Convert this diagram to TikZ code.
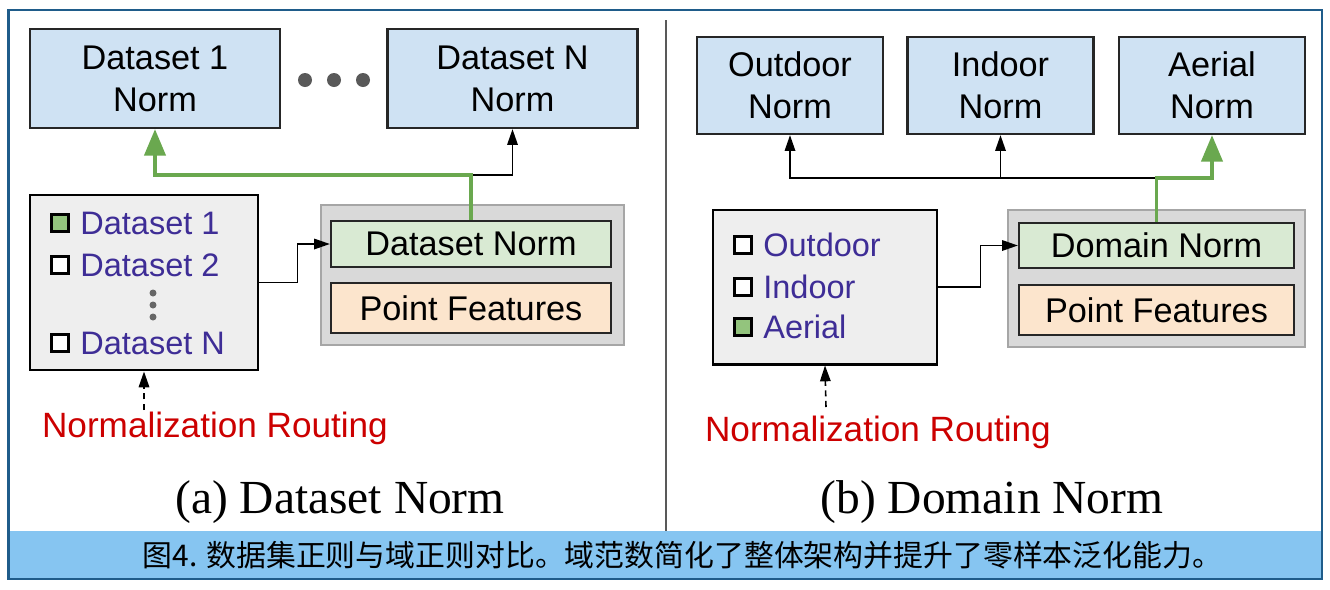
\documentclass[tikz,border=0pt]{standalone}
\usepackage{fontspec}
\setmainfont{Liberation Sans}
\newfontfamily\cjkfont{Noto Sans CJK SC}
\newfontfamily\subfont{Liberation Serif}
\usepackage{xcolor}
\usepackage{tikz}
\usetikzlibrary{arrows.meta,positioning,calc}

\definecolor{normblue}{HTML}{CFE2F3}
\definecolor{normgreen}{HTML}{D9EAD3}
\definecolor{featorange}{HTML}{FCE5CD}
\definecolor{contgray}{HTML}{D9D9D9}
\definecolor{routegray}{HTML}{EEEEEE}
\definecolor{pathgreen}{HTML}{6AA84F}
\definecolor{chkgreen}{HTML}{93C47D}
\definecolor{itempurple}{HTML}{3E2D96}
\definecolor{routered}{HTML}{CC0000}
\definecolor{capblue}{HTML}{86C5F1}
\definecolor{frameblue}{HTML}{1F5C8A}

\begin{document}
\begin{tikzpicture}[
  >={Triangle[length=9pt,width=6pt]},
  normbox/.style={draw=black!85, line width=1.3pt, fill=normblue, align=center, inner sep=0pt, font=\fontsize{19.5}{24}\selectfont},
  layerbox/.style={draw=black!85, line width=1.3pt, align=center, inner sep=0pt, font=\fontsize{19.5}{24}\selectfont},
  contbox/.style={draw=black!35, line width=1.3pt, fill=contgray, inner sep=0pt},
  routebox/.style={draw=black, line width=1.7pt, fill=routegray, inner sep=0pt},
  chk/.style={draw=black, line width=1.7pt, fill=white, minimum size=0.34cm, inner sep=0pt},
  item/.style={text=itempurple, inner sep=0pt, text depth=0pt, font=\fontsize{18.5}{22}\selectfont},
  routelabel/.style={text=routered, font=\fontsize{20}{24}\selectfont},
  subcap/.style={font=\subfont\fontsize{27}{30}\selectfont},
  arr/.style={->, line width=0.9pt},
  garr/.style={-{Triangle[length=15pt,width=12pt]}, draw=pathgreen, line width=2pt},
]
\useasboundingbox (0,0) rectangle (26.6,-11.8);

% Frame and caption bar
\fill[white] (0.17,-0.2) rectangle (26.44,-11.58);
\fill[capblue] (0.17,-10.62) rectangle (26.44,-11.58);
\draw[frameblue, line width=1.5pt] (0.17,-0.2) rectangle (26.44,-11.58);
\node[font=\cjkfont\fontsize{17}{19}\selectfont] (caption) at (13.65,-11.1) {图4. 数据集正则与域正则对比。域范数简化了整体架构并提升了零样本泛化能力。};
\draw[black!65, line width=1.2pt] (13.32,-0.40) -- (13.32,-10.62);

% Left panel: per-dataset norms
\node[normbox, minimum width=5cm, minimum height=1.98cm] (ds1) at (3.10,-1.57) {Dataset 1\\Norm};
\node[normbox, minimum width=5cm, minimum height=1.98cm] (dsN) at (10.25,-1.57) {Dataset N\\Norm};
\foreach \x in {6.10,6.68,7.26} \fill[black!65] (\x,-1.60) circle (0.14);

\node[routebox, minimum width=4.56cm, minimum height=3.5cm] (routeA) at (2.88,-5.65) {};
\node[chk, fill=chkgreen] (chkA1) at (1.20,-4.46) {};
\node[chk] (chkA2) at (1.20,-5.30) {};
\node[chk] (chkAN) at (1.20,-6.86) {};
\node[item, right=0.2cm of chkA1] (itA1) {Dataset 1};
\node[item, right=0.2cm of chkA2] (itA2) {Dataset 2};
\node[item, right=0.2cm of chkAN] (itAN) {Dataset N};
\foreach \y in {-5.86,-6.10,-6.34} \fill[black!60] (3.06,\y) circle (0.07);

\node[contbox, minimum width=6.06cm, minimum height=2.8cm] (contA) at (9.45,-5.50) {};
\node[layerbox, fill=normgreen, minimum width=5.6cm, minimum height=0.92cm] (dsnorm) at (9.42,-4.88) {Dataset Norm};
\node[layerbox, fill=featorange, minimum width=5.6cm, minimum height=1.0cm] (ptA) at (9.42,-6.16) {Point Features};

\coordinate (jA) at (9.42,-3.50);
\draw[arr] (jA) -| (dsN.south);
\draw[garr] (dsnorm.north) -- (jA) -| (ds1.south);
\draw[arr] (routeA.east) -- ++(0.76,0) |- (dsnorm.west);

\coordinate (srcA) at (2.88,-8.20);
\draw[arr, dash pattern=on 3.5pt off 2.5pt] (srcA) -- (routeA.south);
\node[routelabel] (labA) at (4.30,-8.56) {Normalization Routing};
\node[subcap] (subA) at (6.80,-10.04) {(a) Dataset Norm};

% Right panel: per-domain norms
\node[normbox, minimum width=3.72cm, minimum height=1.94cm] (outN) at (15.80,-1.71) {Outdoor\\Norm};
\node[normbox, minimum width=3.72cm, minimum height=1.94cm] (inN) at (20.01,-1.71) {Indoor\\Norm};
\node[normbox, minimum width=3.72cm, minimum height=1.94cm] (aeN) at (24.24,-1.71) {Aerial\\Norm};

\node[routebox, minimum width=4.48cm, minimum height=3.08cm] (routeB) at (16.50,-5.74) {};
\node[chk] (chkB1) at (14.86,-4.90) {};
\node[chk] (chkB2) at (14.86,-5.74) {};
\node[chk, fill=chkgreen] (chkB3) at (14.86,-6.54) {};
\node[item, right=0.2cm of chkB1] (itB1) {Outdoor};
\node[item, right=0.2cm of chkB2] (itB2) {Indoor};
\node[item, right=0.2cm of chkB3] (itB3) {Aerial};

\node[contbox, minimum width=5.94cm, minimum height=2.74cm] (contB) at (23.13,-5.57) {};
\node[layerbox, fill=normgreen, minimum width=5.5cm, minimum height=0.9cm] (dmnorm) at (23.13,-4.91) {Domain Norm};
\node[layerbox, fill=featorange, minimum width=5.5cm, minimum height=1.0cm] (ptB) at (23.13,-6.20) {Point Features};

\coordinate (jB) at (23.13,-3.56);
\draw[arr] (jB) -| (outN.south);
\draw[arr] (inN.south |- jB) -- (inN.south);
\draw[garr] (dmnorm.north) -- (jB) -| (aeN.south);
\draw[arr] (routeB.east) -- ++(0.84,0) |- (dmnorm.west);

\coordinate (srcB) at (16.52,-8.14);
\draw[arr, dash pattern=on 3.5pt off 2.5pt] (srcB) -- (routeB.south);
\node[routelabel] (labB) at (17.56,-8.64) {Normalization Routing};
\node[subcap] (subB) at (19.84,-10.04) {(b) Domain Norm};

\end{tikzpicture}
\end{document}
